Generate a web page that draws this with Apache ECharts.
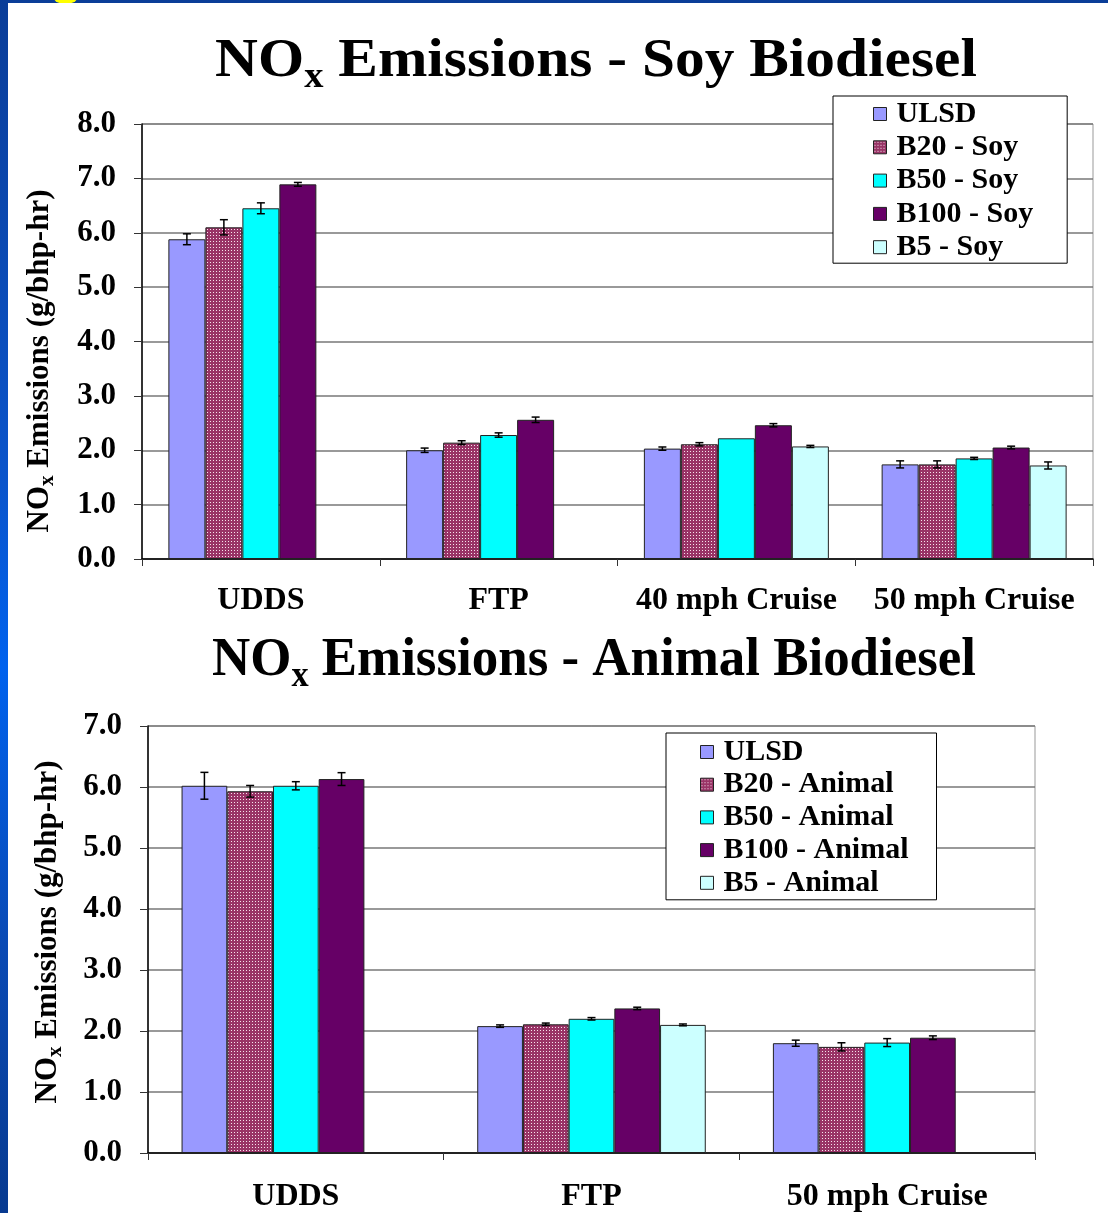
<!DOCTYPE html>
<html><head><meta charset="utf-8">
<script src="https://cdn.jsdelivr.net/npm/echarts@6/dist/echarts.min.js"></script>
<style>
html,body{margin:0;padding:0;width:1108px;height:1213px;overflow:hidden;}
body{position:relative;background:linear-gradient(to bottom,#0a3d98 0%,#0a55cc 40%,#0062ee 55%,#0a4ab4 78%,#073a90 100%);}
#sun{position:absolute;left:54px;top:-8px;width:23px;height:12px;border-radius:50%;background:#ffff00;}
#chart{position:absolute;left:8px;top:3px;width:1100px;height:1210px;background:#fff;}
</style></head>
<body><div id="sun"></div><div id="chart"></div>
<script>
// ---------- data: Soy chart ----------
const soyCategories = ['UDDS', 'FTP', '40 mph Cruise', '50 mph Cruise'];
const soyNames = ['ULSD', 'B20 - Soy', 'B50 - Soy', 'B100 - Soy', 'B5 - Soy'];
const soyULSD  = [5.88, 2.00, 2.03, 1.74];
const soyB20   = [6.10, 2.14, 2.11, 1.74];
const soyB50   = [6.45, 2.28, 2.22, 1.85];
const soyB100  = [6.89, 2.56, 2.46, 2.05];
const soyB5    = [null, null, 2.07, 1.72];
const soyULSDErr = [0.10, 0.04, 0.03, 0.065];
const soyB20Err  = [0.14, 0.035, 0.03, 0.065];
const soyB50Err  = [0.10, 0.04, null, 0.02];
const soyB100Err = [0.035, 0.05, 0.03, 0.025];
const soyB5Err   = [null, null, 0.02, 0.065];
const soyYMax = 8, soyYStep = 1;

// ---------- data: Animal chart ----------
const animalCategories = ['UDDS', 'FTP', '50 mph Cruise'];
const animalNames = ['ULSD', 'B20 - Animal', 'B50 - Animal', 'B100 - Animal', 'B5 - Animal'];
const animalULSD = [6.02, 2.08, 1.80];
const animalB20  = [5.93, 2.11, 1.74];
const animalB50  = [6.02, 2.20, 1.81];
const animalB100 = [6.13, 2.37, 1.89];
const animalB5   = [null, 2.10, null];
const animalULSDErr = [0.22, 0.02, 0.05];
const animalB20Err  = [0.095, 0.02, 0.067];
const animalB50Err  = [0.067, 0.02, 0.065];
const animalB100Err = [0.105, 0.02, 0.03];
const animalB5Err   = [null, 0.015, null];
const animalYMax = 7, animalYStep = 1;

const yTitle = 'Emissions (g/bhp-hr)';

// ---------- style ----------
const FONT = '"Liberation Serif","Times New Roman",serif';
function makeDots() {
  const c = document.createElement('canvas'); c.width = 3; c.height = 3;
  const g = c.getContext('2d');
  g.fillStyle = '#993366'; g.fillRect(0, 0, 3, 3);
  g.fillStyle = '#f6e2ec'; g.fillRect(1, 1, 1, 1);
  return c;
}
const COLORS = ['#9999ff', {image: makeDots(), repeat: 'repeat'}, '#00ffff', '#660066', '#ccffff'];

function bars(names, valuesList, idx, gap) {
  return names.map((n, i) => ({
    type: 'bar', name: n, xAxisIndex: idx, yAxisIndex: idx, data: valuesList[i],
    barGap: '0%', barCategoryGap: (gap * 100) + '%',
    itemStyle: {color: COLORS[i], borderColor: '#222', borderWidth: 1},
    emphasis: {disabled: true}, animation: false, z: 2
  }));
}
function errSeries(valuesList, errList, idx, gap) {
  const data = [];
  valuesList.forEach((vals, k) => vals.forEach((v, c) => {
    const e = errList[k][c];
    if (v != null && e) data.push([c, v, e, k]);
  }));
  const n = valuesList.length;
  return {
    type: 'custom', xAxisIndex: idx, yAxisIndex: idx, data: data, z: 5, silent: true, animation: false,
    encode: {x: 0, y: 1},
    renderItem: function (params, api) {
      const c = api.value(0), v = api.value(1), e = api.value(2), k = api.value(3);
      const band = api.size([1, 0])[0];
      const bw = band * (1 - gap) / n;
      const cx = api.coord([c, v])[0] - n * bw / 2 + (k + 0.5) * bw;
      const yt = api.coord([c, v + e])[1], yb = api.coord([c, v - e])[1];
      const hw = 4, st = {stroke: '#000', lineWidth: 1.5};
      return {type: 'group', children: [
        {type: 'line', shape: {x1: cx, y1: yt, x2: cx, y2: yb}, style: st},
        {type: 'line', shape: {x1: cx - hw, y1: yt, x2: cx + hw, y2: yt}, style: st},
        {type: 'line', shape: {x1: cx - hw, y1: yb, x2: cx + hw, y2: yb}, style: st}
      ]};
    }
  };
}
function yAxis(idx, max, step) {
  return {
    type: 'value', gridIndex: idx, min: 0, max: max, interval: step,
    axisLine: {show: true, lineStyle: {color: '#000', width: 1.5}},
    axisTick: {show: true, length: 8, lineStyle: {color: '#333', width: 1}},
    axisLabel: {formatter: v => v.toFixed(1), fontFamily: FONT, fontWeight: 'bold', fontSize: 31, color: '#000', margin: 26},
    splitLine: {show: true, lineStyle: {color: '#777', width: 1.5}}
  };
}
function xAxis(idx, cats, margin) {
  return {
    type: 'category', gridIndex: idx, data: cats,
    axisLine: {show: true, lineStyle: {color: '#000', width: 1.5}},
    axisTick: {show: true, length: 7, lineStyle: {color: '#333', width: 1}},
    axisLabel: {interval: 0, fontFamily: FONT, fontWeight: 'bold', fontSize: 32, color: '#000', margin: margin}
  };
}
function legend(names, left, top, gapItem, pad) {
  return {
    data: names, orient: 'vertical', left: left, top: top, icon: 'rect',
    itemWidth: 13, itemHeight: 13, itemGap: gapItem, padding: pad,
    borderColor: '#000', borderWidth: 1, backgroundColor: '#fff', selectedMode: false,
    itemStyle: {borderColor: '#222', borderWidth: 1},
    textStyle: {fontFamily: FONT, fontWeight: 'bold', fontSize: 30, color: '#000', padding: [0, 0, 0, 5]}
  };
}
function titleText(x, y, rest, sx) {
  return {
    type: 'text', x: x, y: y, z: 10, scaleX: sx,
    style: {
      text: '{a|NO}{s|x}{a| ' + rest + '}', align: 'center', verticalAlign: 'top', fill: '#000',
      fontFamily: FONT, fontWeight: 'bold', fontSize: 54,
      rich: {
        a: {fontFamily: FONT, fontWeight: 'bold', fontSize: 54, lineHeight: 54, verticalAlign: 'top', fill: '#000'},
        s: {fontFamily: FONT, fontWeight: 'bold', fontSize: 35, padding: [25, 0, 0, 0], verticalAlign: 'top', fill: '#000'}
      }
    }
  };
}
function yName(x, y) {
  return {
    type: 'text', x: x, y: y, rotation: Math.PI / 2, z: 10,
    style: {
      text: '{a|NO}{s|x}{a| ' + yTitle + '}', align: 'center', verticalAlign: 'middle', fill: '#000',
      fontFamily: FONT, fontWeight: 'bold', fontSize: 31,
      rich: {
        a: {fontFamily: FONT, fontWeight: 'bold', fontSize: 31, lineHeight: 31, verticalAlign: 'top', fill: '#000'},
        s: {fontFamily: FONT, fontWeight: 'bold', fontSize: 21, padding: [13, 0, 0, 0], verticalAlign: 'top', fill: '#000'}
      }
    }
  };
}

const GAP1 = 0.222, GAP2 = 0.227;
const soyVals = [soyULSD, soyB20, soyB50, soyB100, soyB5];
const soyErrs = [soyULSDErr, soyB20Err, soyB50Err, soyB100Err, soyB5Err];
const anVals = [animalULSD, animalB20, animalB50, animalB100, animalB5];
const anErrs = [animalULSDErr, animalB20Err, animalB50Err, animalB100Err, animalB5Err];

const chart = echarts.init(document.getElementById('chart'), null, {renderer: 'canvas'});
chart.setOption({
  animation: false,
  textStyle: {fontFamily: FONT},
  grid: [
    {left: 134, top: 121, width: 951, height: 435, show: true, borderColor: '#999', borderWidth: 1, backgroundColor: '#fff'},
    {left: 140, top: 723, width: 887, height: 434, show: true, borderColor: '#999', borderWidth: 1, backgroundColor: '#fff'}
  ],
  xAxis: [xAxis(0, soyCategories, 26), xAxis(1, animalCategories, 28)],
  yAxis: [yAxis(0, soyYMax, soyYStep), yAxis(1, animalYMax, animalYStep)],
  legend: [
    legend(soyNames, 825, 93, 3.3, [3, 34, 1, 40]),
    legend(animalNames, 658, 730, 2.7, [4, 28, 2, 34])
  ],
  graphic: [
    titleText(588, 32, 'Emissions - Soy Biodiesel', 1.1),
    titleText(586, 631, 'Emissions - Animal Biodiesel', 0.98),
    yName(33, 358),
    yName(41, 929)
  ],
  series: [].concat(
    bars(soyNames, soyVals, 0, GAP1),
    [errSeries(soyVals, soyErrs, 0, GAP1)],
    bars(animalNames, anVals, 1, GAP2),
    [errSeries(anVals, anErrs, 1, GAP2)]
  )
});
</script>
</body></html>
